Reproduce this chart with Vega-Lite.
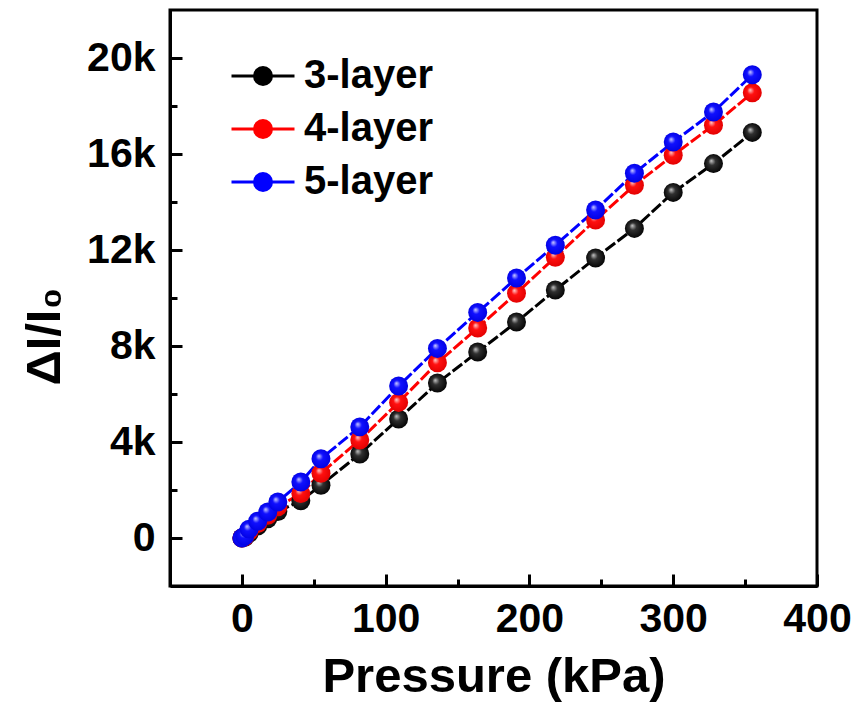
{
  "$schema": "https://vega.github.io/schema/vega-lite/v6.json",
  "width": 647,
  "height": 576,
  "autosize": {"type": "none"},
  "padding": {"left": 170, "top": 10, "right": 41, "bottom": 121},
  "background": "white",
  "config": {
    "view": {"stroke": "black", "strokeWidth": 3},
    "axis": {
      "domainColor": "black", "domainWidth": 3,
      "tickColor": "black", "tickWidth": 3,
      "grid": false, "labelFlush": false,
      "labelFont": "Liberation Sans", "labelFontWeight": "bold", "labelFontSize": 41, "labelColor": "black",
      "titleFont": "Liberation Sans", "titleFontWeight": "bold", "titleFontSize": 49, "titleColor": "black"
    },
    "legend": {
      "orient": "none", "legendX": 60, "legendY": 33,
      "symbolType": "M-1,0H-0.27M0.27,0H1M0.27,0A0.27,0.27,0,1,1,-0.27,0A0.27,0.27,0,1,1,0.27,0Z",
      "symbolSize": 3969, "symbolStrokeWidth": 3,
      "labelFont": "Liberation Sans", "labelFontWeight": "bold", "labelFontSize": 40, "labelColor": "black",
      "labelOffset": 8, "rowPadding": -19, "labelLimit": 0
    }
  },
  "data": {"values": [
    {"s": "3-layer", "p": 0, "v": 0}, {"s": "3-layer", "p": 2, "v": 30}, {"s": "3-layer", "p": 5, "v": 200},
    {"s": "3-layer", "p": 11, "v": 500}, {"s": "3-layer", "p": 18, "v": 800}, {"s": "3-layer", "p": 25, "v": 1100},
    {"s": "3-layer", "p": 41, "v": 1550}, {"s": "3-layer", "p": 55, "v": 2200}, {"s": "3-layer", "p": 82, "v": 3500},
    {"s": "3-layer", "p": 109, "v": 4960}, {"s": "3-layer", "p": 136, "v": 6460}, {"s": "3-layer", "p": 164, "v": 7750},
    {"s": "3-layer", "p": 191, "v": 9000}, {"s": "3-layer", "p": 218, "v": 10330}, {"s": "3-layer", "p": 246, "v": 11670},
    {"s": "3-layer", "p": 273, "v": 12900}, {"s": "3-layer", "p": 300, "v": 14400}, {"s": "3-layer", "p": 328, "v": 15600},
    {"s": "3-layer", "p": 355, "v": 16900},
    {"s": "4-layer", "p": 0, "v": 0}, {"s": "4-layer", "p": 2, "v": 50}, {"s": "4-layer", "p": 5, "v": 280},
    {"s": "4-layer", "p": 11, "v": 600}, {"s": "4-layer", "p": 18, "v": 950}, {"s": "4-layer", "p": 25, "v": 1300},
    {"s": "4-layer", "p": 41, "v": 1850}, {"s": "4-layer", "p": 55, "v": 2700}, {"s": "4-layer", "p": 82, "v": 4080},
    {"s": "4-layer", "p": 109, "v": 5650}, {"s": "4-layer", "p": 136, "v": 7300}, {"s": "4-layer", "p": 164, "v": 8750},
    {"s": "4-layer", "p": 191, "v": 10200}, {"s": "4-layer", "p": 218, "v": 11700}, {"s": "4-layer", "p": 246, "v": 13250},
    {"s": "4-layer", "p": 273, "v": 14700}, {"s": "4-layer", "p": 300, "v": 15950}, {"s": "4-layer", "p": 328, "v": 17200},
    {"s": "4-layer", "p": 355, "v": 18550},
    {"s": "5-layer", "p": 0, "v": 0}, {"s": "5-layer", "p": 2, "v": 80}, {"s": "5-layer", "p": 5, "v": 370},
    {"s": "5-layer", "p": 11, "v": 700}, {"s": "5-layer", "p": 18, "v": 1080}, {"s": "5-layer", "p": 25, "v": 1500},
    {"s": "5-layer", "p": 41, "v": 2330}, {"s": "5-layer", "p": 55, "v": 3300}, {"s": "5-layer", "p": 82, "v": 4630},
    {"s": "5-layer", "p": 109, "v": 6330}, {"s": "5-layer", "p": 136, "v": 7900}, {"s": "5-layer", "p": 164, "v": 9400},
    {"s": "5-layer", "p": 191, "v": 10830}, {"s": "5-layer", "p": 218, "v": 12200}, {"s": "5-layer", "p": 246, "v": 13670},
    {"s": "5-layer", "p": 273, "v": 15200}, {"s": "5-layer", "p": 300, "v": 16500}, {"s": "5-layer", "p": 328, "v": 17750},
    {"s": "5-layer", "p": 355, "v": 19300}
  ]},
  "layer": [
    {
      "mark": {"type": "line", "strokeWidth": 3, "strokeDash": [12, 3]},
      "encoding": {
        "x": {"field": "p", "type": "quantitative",
          "scale": {"domain": [-50, 400], "nice": false, "zero": false},
          "axis": {"values": [0, 100, 200, 300, 400], "tickSize": -12, "labelPadding": 25,
            "title": "Pressure (kPa)", "titlePadding": 13}},
        "y": {"field": "v", "type": "quantitative",
          "scale": {"domain": [-2000, 22000], "nice": false, "zero": false},
          "axis": {"values": [0, 4000, 8000, 12000, 16000, 20000], "tickSize": -12, "labelPadding": 27,
            "labelExpr": "datum.value == 0 ? '0' : (datum.value / 1000) + 'k'",
            "title": "ΔI/I₀", "titlePadding": 17, "titleY": 326}},
        "color": {"field": "s", "type": "nominal",
          "scale": {"domain": ["3-layer", "4-layer", "5-layer"], "range": ["#000000", "#ff0000", "#0000ff"]},
          "legend": {"title": null,
            "encode": {"symbols": {"update": {"fill": {"scale": "color", "field": "value"}, "stroke": {"scale": "color", "field": "value"}, "opacity": {"value": 1}}}}}}
      }
    },
    {
      "transform": [{"filter": "datum.s == '3-layer'"}],
      "mark": {"type": "point", "filled": true, "size": 360, "opacity": 1, "strokeWidth": 0,
        "fill": {"gradient": "radial", "x1": 0.38, "y1": 0.35, "r1": 0, "x2": 0.5, "y2": 0.5, "r2": 0.55,
          "stops": [{"offset": 0, "color": "#c8c8c8"}, {"offset": 0.35, "color": "#303030"}, {"offset": 1, "color": "#000000"}]}},
      "encoding": {
        "x": {"field": "p", "type": "quantitative",
          "axis": {"orient": "bottom", "values": [50, 150, 250, 350], "tickSize": -7, "labels": false, "domain": false, "title": null}},
        "y": {"field": "v", "type": "quantitative",
          "axis": {"orient": "left", "values": [2000, 6000, 10000, 14000, 18000], "tickSize": -7, "labels": false, "domain": false, "title": null}}
      }
    },
    {
      "transform": [{"filter": "datum.s == '4-layer'"}],
      "mark": {"type": "point", "filled": true, "size": 360, "opacity": 1, "strokeWidth": 0,
        "fill": {"gradient": "radial", "x1": 0.38, "y1": 0.35, "r1": 0, "x2": 0.5, "y2": 0.5, "r2": 0.55,
          "stops": [{"offset": 0, "color": "#ffd0d0"}, {"offset": 0.35, "color": "#ff1010"}, {"offset": 1, "color": "#e00000"}]}},
      "encoding": {
        "x": {"field": "p", "type": "quantitative", "axis": null},
        "y": {"field": "v", "type": "quantitative", "axis": null}
      }
    },
    {
      "transform": [{"filter": "datum.s == '5-layer'"}],
      "mark": {"type": "point", "filled": true, "size": 360, "opacity": 1, "strokeWidth": 0,
        "fill": {"gradient": "radial", "x1": 0.38, "y1": 0.35, "r1": 0, "x2": 0.5, "y2": 0.5, "r2": 0.55,
          "stops": [{"offset": 0, "color": "#d0d0ff"}, {"offset": 0.35, "color": "#1010ff"}, {"offset": 1, "color": "#0000e0"}]}},
      "encoding": {
        "x": {"field": "p", "type": "quantitative", "axis": null},
        "y": {"field": "v", "type": "quantitative", "axis": null}
      }
    }
  ],
  "resolve": {"axis": {"x": "independent", "y": "independent"}}
}
